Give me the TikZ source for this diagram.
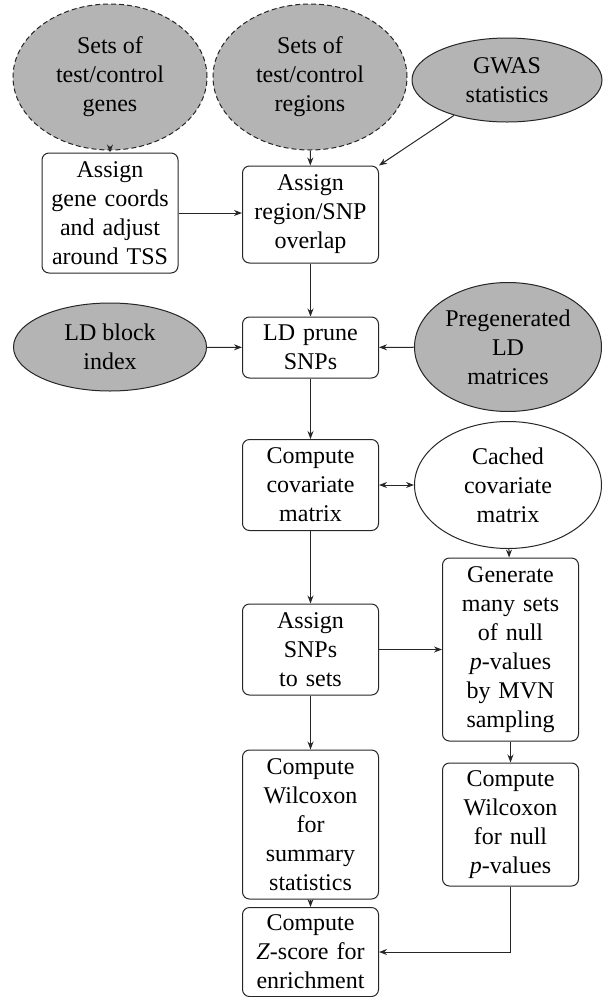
\documentclass[tikz,border=0pt]{standalone}
\usepackage{fontspec}
\setmainfont{Liberation Serif}
\usetikzlibrary{shapes.geometric,arrows.meta}
\definecolor{ellgray}{RGB}{180,180,180}
\tikzset{
  base/.style={font=\fontsize{24}{29}\selectfont, align=center, line width=1pt, draw=black!85},
  procbox/.style={base, rectangle, rounded corners=7pt, inner sep=0pt, text width=124pt, minimum width=136pt},
  datell/.style={base, ellipse, inner sep=0pt, fill=ellgray},
  dashell/.style={datell, dash pattern=on 5pt off 3pt},
  cachell/.style={base, ellipse, inner sep=0pt, fill=white},
  arr/.style={-{Stealth[length=8pt,width=6pt]}, line width=1pt, draw=black!85},
  darr/.style={{Stealth[length=8pt,width=6pt]}-{Stealth[length=8pt,width=6pt]}, line width=1pt, draw=black!85},
}
\begin{document}
\begin{tikzpicture}[x=1pt,y=-1pt]
\useasboundingbox (0,0) rectangle (603,997);
% ellipses
\node[dashell, minimum width=194pt, minimum height=146pt] (genes) at (110,77) {Sets of\\test/control\\genes};
\node[dashell, minimum width=194pt, minimum height=146pt] (regions) at (310,77) {Sets of\\test/control\\regions};
\node[datell, minimum width=190pt, minimum height=84pt] (gwas) at (507,80) {GWAS\\statistics};
\node[datell, minimum width=193pt, minimum height=88pt] (ldblock) at (110,347) {LD block\\index};
\node[datell, minimum width=187pt, minimum height=129pt] (pregen) at (508,347) {Pregenerated\\LD\\matrices};
\node[cachell, minimum width=187pt, minimum height=127pt] (cached) at (508,485) {Cached\\covariate\\matrix};
% boxes
\node[procbox, minimum height=120pt] (genecoords) at (110,213) {Assign\\gene coords\\and adjust\\around TSS};
\node[procbox, minimum height=97pt] (overlap) at (310.5,214.5) {Assign\\region/SNP\\overlap};
\node[procbox, minimum height=61pt] (prune) at (310.5,347.5) {LD prune\\SNPs};
\node[procbox, minimum height=91pt] (cov) at (310.5,485) {Compute\\covariate\\matrix};
\node[procbox, minimum height=91pt] (assign) at (310.5,649.5) {Assign\\SNPs\\to sets};
\node[procbox, minimum height=149pt] (wilsum) at (310.5,824.5) {Compute\\Wilcoxon\\for\\summary\\statistics};
\node[procbox, minimum height=89pt] (zscore) at (310.5,952) {Compute\\\textit{Z}-score for\\enrichment};
\node[procbox, minimum height=183pt] (gen) at (510.5,649.5) {Generate\\many sets\\of null\\\textit{p}-values\\by MVN\\sampling};
\node[procbox, minimum height=123pt] (wilnull) at (510.5,824.5) {Compute\\Wilcoxon\\for null\\\textit{p}-values};
% connectors
\draw[arr] (genes) -- (genecoords);
\draw[arr] (regions) -- (overlap);
\draw[arr] (gwas) -- (overlap.north east);
\draw[arr] (genecoords.east) -- (genecoords.east -| overlap.west);
\draw[arr] (overlap) -- (prune);
\draw[arr] (ldblock) -- (prune);
\draw[arr] (pregen) -- (prune);
\draw[arr] (prune) -- (cov);
\draw[darr] (cov.east) -- (cov.east -| cached.west);
\draw[arr] (cached) -- (gen);
\draw[arr] (cov) -- (assign);
\draw[arr] (assign) -- (gen);
\draw[arr] (assign) -- (wilsum);
\draw[arr] (gen) -- (wilnull);
\draw[arr] (wilsum) -- (zscore);
\draw[arr] (wilnull.south) |- (zscore.east);
\end{tikzpicture}
\end{document}
